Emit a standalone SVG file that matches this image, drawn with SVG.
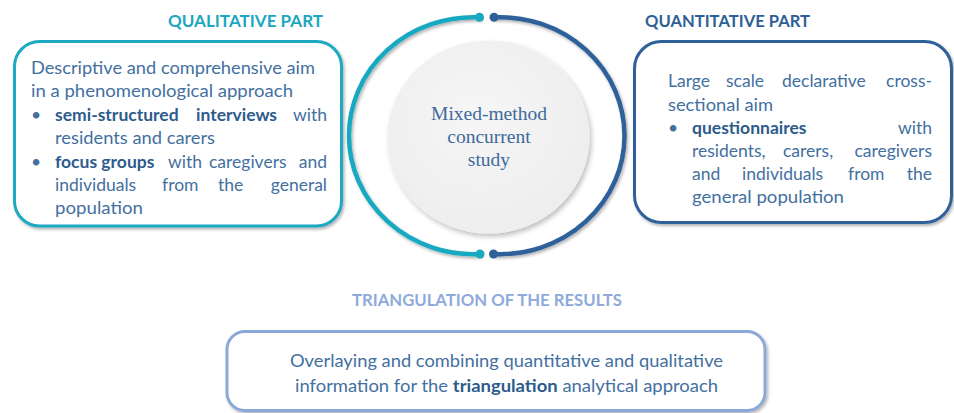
<svg xmlns="http://www.w3.org/2000/svg" width="954" height="413" viewBox="0 0 954 413">
<style>
.t{font-family:Lato,"Liberation Sans",sans-serif;font-size:17.5px;fill:#43709f}
.b{font-weight:bold;fill:#2d5b8c}
.e{text-anchor:end}
.h{font-family:Lato,"Liberation Sans",sans-serif;font-size:17px;font-weight:bold}
.s{font-family:"Liberation Serif","Times New Roman",serif;font-size:19.5px;fill:#3e6a9c;text-anchor:middle}
.box{fill:#fff;stroke-width:3;filter:url(#sh)}
.ring{fill:none;stroke-width:4.5;stroke-linecap:round;filter:url(#sh)}
</style>
<defs>
<filter id="sh" x="-10%" y="-10%" width="125%" height="125%">
<feDropShadow dx="1.5" dy="2" stdDeviation="1.5" flood-color="#000" flood-opacity="0.3"/>
</filter>
<filter id="csh" x="-10%" y="-10%" width="125%" height="125%">
<feDropShadow dx="2" dy="3" stdDeviation="2.5" flood-color="#000" flood-opacity="0.25"/>
</filter>
<radialGradient id="cg" cx="0.45" cy="0.4" r="0.65">
<stop offset="0" stop-color="#f6f6f6"/>
<stop offset="1" stop-color="#ededed"/>
</radialGradient>
</defs>
<rect width="954" height="413" fill="#fff"/>

<g id="qualitative">
<text class="h" x="168" y="27" fill="#1ba7bf" textLength="155" lengthAdjust="spacingAndGlyphs">QUALITATIVE PART</text>
<rect class="box" x="14.5" y="41.5" width="327" height="184.5" rx="25" stroke="#1ba9c1"/>
<text class="t" x="31" y="74" textLength="284" lengthAdjust="spacingAndGlyphs">Descriptive and comprehensive aim</text>
<text class="t" x="31" y="97" textLength="262" lengthAdjust="spacingAndGlyphs">in a phenomenological approach</text>
<text class="t" y="120.5"><tspan x="31">•</tspan><tspan class="b" x="55">semi-structured</tspan><tspan class="b" x="196">interviews</tspan><tspan class="e" x="327">with</tspan></text>
<text class="t" x="55" y="144" textLength="160" lengthAdjust="spacingAndGlyphs">residents and carers</text>
<text class="t" y="167.5"><tspan x="31">•</tspan><tspan class="b" x="55">focus groups</tspan><tspan x="168">with</tspan><tspan x="209">caregivers</tspan><tspan class="e" x="327">and</tspan></text>
<text class="t" y="190.5"><tspan x="55">individuals</tspan><tspan x="162">from</tspan><tspan x="218">the</tspan><tspan class="e" x="327">general</tspan></text>
<text class="t" x="55" y="213.5" textLength="88" lengthAdjust="spacingAndGlyphs">population</text>
</g>

<g id="center">
<ellipse cx="488.5" cy="137" rx="101" ry="96.5" fill="url(#cg)" filter="url(#csh)"/>
<text class="s" x="489" y="120">Mixed-method</text>
<text class="s" x="489" y="143">concurrent</text>
<text class="s" x="489" y="166">study</text>
</g>

<g id="connectors">
<path class="ring" d="M479.5,17.3 A124.5,118.5 0 1,0 480,254" stroke="#19a9c1"/>
<path class="ring" d="M494,17.3 A124.5,118.5 0 1,1 493.5,254" stroke="#2f6199"/>
<circle cx="479.5" cy="17.3" r="4.5" fill="#19a9c1"/>
<circle cx="480" cy="254" r="4.5" fill="#19a9c1"/>
<circle cx="494" cy="17.3" r="4.5" fill="#2f6199"/>
<circle cx="493.5" cy="254" r="4.5" fill="#2f6199"/>
</g>

<g id="quantitative">
<text class="h" x="645" y="27" fill="#2e5f96" textLength="165" lengthAdjust="spacingAndGlyphs">QUANTITATIVE PART</text>
<rect class="box" x="634.5" y="41.5" width="317" height="181" rx="27" stroke="#2f6199"/>
<text class="t" y="87"><tspan x="668">Large</tspan><tspan x="726">scale</tspan><tspan x="782">declarative</tspan><tspan class="e" x="932">cross-</tspan></text>
<text class="t" x="668" y="110.5" textLength="105" lengthAdjust="spacingAndGlyphs">sectional aim</text>
<text class="t" y="133.5"><tspan x="668">•</tspan><tspan class="b" x="692">questionnaires</tspan><tspan class="e" x="932">with</tspan></text>
<text class="t" y="157"><tspan x="692">residents,</tspan><tspan x="783">carers,</tspan><tspan class="e" x="932">caregivers</tspan></text>
<text class="t" y="180"><tspan x="692">and</tspan><tspan x="742">individuals</tspan><tspan x="848">from</tspan><tspan class="e" x="932">the</tspan></text>
<text class="t" x="692" y="203" textLength="152" lengthAdjust="spacingAndGlyphs">general population</text>
</g>

<g id="triangulation">
<text class="h" x="352" y="306" fill="#8eaadb" textLength="270" lengthAdjust="spacingAndGlyphs">TRIANGULATION OF THE RESULTS</text>
<rect class="box" x="227" y="331.5" width="538" height="79" rx="18" stroke="#8aa9d9"/>
<text class="t" x="506.5" y="367" text-anchor="middle" textLength="433" lengthAdjust="spacingAndGlyphs">Overlaying and combining quantitative and qualitative</text>
<text class="t" x="506.5" y="392" text-anchor="middle" textLength="423" lengthAdjust="spacingAndGlyphs">information for the <tspan class="b">triangulation</tspan> analytical approach</text>
</g>
</svg>
